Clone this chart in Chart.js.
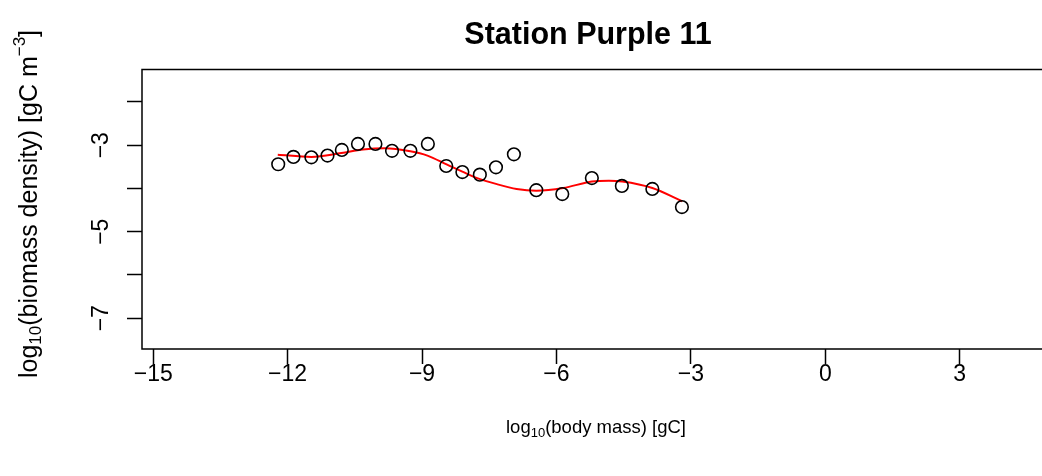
<!DOCTYPE html>
<html>
<head>
<meta charset="utf-8">
<script src="https://cdn.jsdelivr.net/npm/chart.js@4.4.1/dist/chart.umd.min.js"></script>
<style>
  html, body { margin: 0; padding: 0; background: #fff; }
  #wrap { width: 1042px; height: 476px; }
</style>
</head>
<body>
<div id="wrap"><canvas id="plot"></canvas></div>
<script>
const massX = [-12.21, -11.87, -11.47, -11.11, -10.79, -10.43, -10.04, -9.67, -9.26, -8.87,
  -8.46, -8.10, -7.71, -7.35, -6.95, -6.45, -5.87, -5.21, -4.54, -3.86, -3.20];
const densityY = [-3.44, -3.27, -3.28, -3.24, -3.11, -2.97, -2.97, -3.13, -3.13, -2.97,
  -3.48, -3.62, -3.68, -3.51, -3.21, -4.04, -4.13, -3.76, -3.94, -4.01, -4.43];
const fitX = [-12.22, -11.47, -10.80, -10.32, -9.83, -9.26, -8.88, -8.44, -8.10, -7.77,
  -7.33, -6.89, -6.45, -5.85, -5.21, -4.83, -4.53, -3.86, -3.19];
const fitY = [-3.22, -3.27, -3.18, -3.10, -3.07, -3.14, -3.24, -3.45, -3.61, -3.76,
  -3.90, -4.01, -4.05, -3.99, -3.84, -3.82, -3.84, -3.99, -4.30];
const xTicks = [-15, -12, -9, -6, -3, 0, 3];
const yTicks = [-7, -6, -5, -4, -3, -2];
const yLabelled = [-7, -5, -3];

const FONT = '"Liberation Sans", Arial, Helvetica, sans-serif';
const minus = v => String(v).replace('-', '\u2212');

function richText(ctx, parts, cx, cy, angle) {
  ctx.save();
  ctx.translate(cx, cy);
  ctx.rotate(angle);
  ctx.textBaseline = 'middle';
  ctx.textAlign = 'left';
  let total = 0;
  parts.forEach(p => { ctx.font = p.size + 'px ' + FONT; p.w = ctx.measureText(p.t).width; total += p.w; });
  let x = -total / 2;
  parts.forEach(p => {
    ctx.font = p.size + 'px ' + FONT;
    ctx.fillStyle = '#000';
    ctx.fillText(p.t, x, p.dy || 0);
    x += p.w;
  });
  ctx.restore();
}

const frame = {
  id: 'frame',
  afterDraw(chart) {
    const { ctx, chartArea: a } = chart;
    ctx.save();
    ctx.strokeStyle = '#000';
    ctx.lineWidth = 1.5;
    ctx.beginPath();
    ctx.moveTo(a.right + 10, a.top);
    ctx.lineTo(a.left, a.top);
    ctx.lineTo(a.left, a.bottom);
    ctx.lineTo(a.right + 10, a.bottom);
    ctx.stroke();
    ctx.restore();
    richText(ctx, [
      { t: 'log', size: 18.5 },
      { t: '10', size: 13, dy: 5 },
      { t: '(body mass) [gC]', size: 18.5 }
    ], 596, 428, 0);
    richText(ctx, [
      { t: 'log', size: 25 },
      { t: '10', size: 17, dy: 6 },
      { t: '(biomass density) [gC m', size: 25 },
      { t: '\u22123', size: 17, dy: -10 },
      { t: ']', size: 25 }
    ], 30, 204, -Math.PI / 2);
  }
};

new Chart(document.getElementById('plot'), {
  data: {
    datasets: [{
      type: 'scatter',
      label: 'observed',
      data: massX.map((x, i) => ({ x: x, y: densityY[i] })),
      pointStyle: 'circle',
      pointRadius: 6.3,
      pointBorderWidth: 1.6,
      pointBorderColor: '#000',
      pointBackgroundColor: 'rgba(0,0,0,0)',
      order: 1
    }, {
      type: 'line',
      label: 'fit',
      data: fitX.map((x, i) => ({ x: x, y: fitY[i] })),
      borderColor: '#ff0000',
      borderWidth: 2,
      pointRadius: 0,
      tension: 0.4,
      cubicInterpolationMode: 'monotone',
      order: 2
    }]
  },
  options: {
    responsive: true,
    maintainAspectRatio: false,
    animation: false,
    layout: { padding: 0 },
    plugins: {
      legend: { display: false },
      tooltip: { enabled: false },
      title: {
        display: true,
        text: 'Station Purple 11',
        fullSize: false,
        color: '#000',
        font: { family: FONT, size: 30.5, weight: 'bold', lineHeight: 1.2 },
        padding: { top: 17, bottom: 16 }
      }
    },
    scales: {
      x: {
        type: 'linear',
        min: -15.25,
        max: 4.66,
        afterBuildTicks: s => { s.ticks = xTicks.map(v => ({ value: v })); },
        afterFit: s => { s.height = 127; },
        border: { display: false },
        grid: { drawOnChartArea: false, drawTicks: true, tickLength: 15, tickColor: '#000', tickWidth: 1.5 },
        ticks: {
          color: '#000',
          padding: -3,
          maxRotation: 0,
          font: { family: FONT, size: 23 },
          callback: v => minus(v)
        }
      },
      y: {
        type: 'linear',
        min: -7.711,
        max: -1.252,
        afterBuildTicks: s => { s.ticks = yTicks.map(v => ({ value: v })); },
        afterFit: s => { s.width = 142; },
        border: { display: false },
        grid: { drawOnChartArea: false, drawTicks: true, tickLength: 15, tickColor: '#000', tickWidth: 1.5 },
        ticks: {
          color: '#000',
          padding: 12,
          minRotation: 90,
          maxRotation: 90,
          crossAlign: 'center',
          font: { family: FONT, size: 23 },
          callback: v => yLabelled.includes(v) ? minus(v) : ''
        }
      }
    }
  },
  plugins: [frame]
});
</script>
</body>
</html>
